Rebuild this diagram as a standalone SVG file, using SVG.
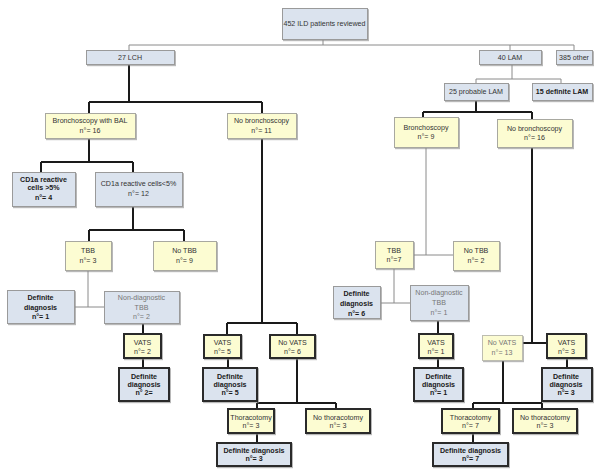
<svg xmlns="http://www.w3.org/2000/svg" width="601" height="473" viewBox="0 0 601 473">
<defs>
<filter id="sh" x="-10%" y="-10%" width="130%" height="140%"><feDropShadow dx="1" dy="1.2" stdDeviation="0.7" flood-color="#888" flood-opacity="0.6"/></filter>
</defs>
<style>
rect{shape-rendering:crispEdges}
g[id^="n-"] rect{filter:url(#sh)}
.b{fill:#dbe3ee;stroke:#9a9a9a;stroke-width:1}
.bt{fill:#dbe3ee;stroke:#2a2a2a;stroke-width:2}
.y{fill:#fcfcd2;stroke:#a8a8a0;stroke-width:1}
.yt{fill:#fcfcd2;stroke:#2a2a2a;stroke-width:2}
text{font-family:"Liberation Sans",Arial,sans-serif;font-size:7.1px;fill:#333;text-anchor:middle}
.bd{font-weight:bold;fill:#1a1a1a}
.g{fill:#777}
.thin{stroke:#8a8a8a;stroke-width:1;fill:none}
.thick{stroke:#1a1a1a;stroke-width:2;fill:none}
</style>
<rect width="601" height="473" fill="#fff"/>
<g id="connectors">
<path class="thin" d="M323 39V45M129 45H574M129 45V50M510 45V50M574 45V50"/>
<path class="thin" d="M512 64V79M476 79H561M476 79V83M561 79V83"/>
<path class="thick" d="M129 64V102M89 102H262M89 102V113M262 102V113"/>
<path class="thick" d="M89 138V162M41 162H133M41 162V172M133 162V172"/>
<path class="thick" d="M133 206V230M89 230H184M89 230V241M184 230V241"/>
<path class="thin" d="M88 270V307M74 307H104"/>
<path class="thick" d="M143 323V334M143 358V368"/>
<path class="thick" d="M262 138V323M227 323H297M227 323V335M297 323V335"/>
<path class="thick" d="M228 358V368M297 358V403M257 403H336M257 403V409M336 403V409M257 433V443"/>
<path class="thick" d="M476 101V112M423 112H532M423 112V117M532 112V119"/>
<path class="thin" d="M426 147V255M413 255H453"/>
<path class="thin" d="M394 268V303M380 303H410"/>
<path class="thick" d="M438 320V334M438 358V368"/>
<path class="thick" d="M532 147V343M522 343H547M567 358V368"/>
<path class="thick" d="M503 360V403M473 403H542M473 403V409M542 403V409M473 433V443"/>
</g>
<g id="n-root"><rect class="b" x="282" y="8" width="85" height="31"/><text x="324.5" y="26">452 ILD patients reviewed</text></g>
<g id="n-lch"><rect class="b" x="86" y="50" width="88" height="14"/><text x="130" y="59.5">27 LCH</text></g>
<g id="n-lam"><rect class="b" x="479" y="50" width="62" height="14"/><text x="510" y="59.5">40 LAM</text></g>
<g id="n-other"><rect class="b" x="556" y="50" width="36" height="14"/><text x="574" y="59.5">385 other</text></g>
<g id="n-problam"><rect class="b" x="444" y="83" width="64" height="17"/><text x="476" y="93.5">25 probable LAM</text></g>
<g id="n-deflam"><rect class="b" x="532" y="83" width="60" height="17"/><text class="bd" x="562" y="93.5">15 definite LAM</text></g>
<g id="n-bal"><rect class="y" x="45" y="113" width="90" height="25"/><text x="90" y="122.5">Bronchoscopy with BAL</text><text x="90" y="132.5">n°= 16</text></g>
<g id="n-nobr1"><rect class="y" x="227" y="113" width="69" height="25"/><text x="261.5" y="122.5">No bronchoscopy</text><text x="261.5" y="132.5">n°= 11</text></g>
<g id="n-cd1a-hi"><rect class="b" x="12" y="172" width="63" height="34"/><text class="bd" x="43.5" y="182">CD1a  reactive</text><text class="bd" x="43.5" y="189.5">cells &gt;5%</text><text class="bd" x="43.5" y="199.5">n°=  4</text></g>
<g id="n-cd1a-lo"><rect class="b" x="95" y="172" width="87" height="34"/><text x="138.5" y="185.5">CD1a reactive cells&lt;5%</text><text x="138.5" y="195.5">n°= 12</text></g>
<g id="n-tbb1"><rect class="y" x="65" y="241" width="46" height="29"/><text x="88" y="252.5">TBB</text><text x="88" y="262.5">n°= 3</text></g>
<g id="n-notbb1"><rect class="y" x="153" y="241" width="63" height="29"/><text x="184.5" y="252.5">No TBB</text><text x="184.5" y="262.5">n°= 9</text></g>
<g id="n-def1"><rect class="b" x="7" y="290" width="67" height="33"/><text class="bd" x="40.5" y="299.5">Definite</text><text class="bd" x="40.5" y="309.5">diagnosis</text><text class="bd" x="40.5" y="318.5">n°= 1</text></g>
<g id="n-nondiag1"><rect class="b" x="104" y="291" width="75" height="32"/><text class="g" x="141.5" y="299.5">Non-diagnostic</text><text class="g" x="141.5" y="309.5">TBB</text><text class="g" x="141.5" y="318.5">n°= 2</text></g>
<g id="n-vats2"><rect class="yt" x="124" y="334" width="37" height="24"/><text x="142.5" y="345">VATS</text><text x="142.5" y="353.5">n°= 2</text></g>
<g id="n-def2"><rect class="bt" x="119" y="368" width="50" height="33"/><text class="bd" x="144" y="378.5">Definite</text><text class="bd" x="144" y="386.5">diagnosis</text><text class="bd" x="144" y="394.5">n° 2=</text></g>
<g id="n-vats5"><rect class="yt" x="204" y="335" width="37" height="23"/><text x="222.5" y="345">VATS</text><text x="222.5" y="353.5">n°= 5</text></g>
<g id="n-novats6"><rect class="yt" x="270" y="335" width="45" height="23"/><text x="292.5" y="345">No VATS</text><text x="292.5" y="353.5">n°= 6</text></g>
<g id="n-def5"><rect class="bt" x="203" y="368" width="54" height="33"/><text class="bd" x="230" y="378.5">Definite</text><text class="bd" x="230" y="386.5">diagnosis</text><text class="bd" x="230" y="394.5">n°= 5</text></g>
<g id="n-thor3"><rect class="yt" x="228" y="409" width="46" height="24"/><text x="251" y="419.5">Thoracotomy</text><text x="251" y="427.5">n°= 3</text></g>
<g id="n-nothor3a"><rect class="yt" x="306" y="409" width="64" height="24"/><text x="338" y="419.5">No thoracotomy</text><text x="338" y="427.5">n°= 3</text></g>
<g id="n-def3a"><rect class="bt" x="217" y="443" width="74" height="23"/><text class="bd" x="254" y="452.5">Definite diagnosis</text><text class="bd" x="254" y="460.5">n°= 3</text></g>
<g id="n-br9"><rect class="y" x="394" y="117" width="64" height="30"/><text x="426" y="129.5">Bronchoscopy</text><text x="426" y="138.5">n°= 9</text></g>
<g id="n-nobr16"><rect class="y" x="497" y="119" width="75" height="28"/><text x="534.5" y="130.5">No bronchoscopy</text><text x="534.5" y="139.5">n°= 16</text></g>
<g id="n-tbb7"><rect class="y" x="375" y="241" width="38" height="27"/><text x="394" y="252.5">TBB</text><text x="394" y="261.5">n°=7</text></g>
<g id="n-notbb2"><rect class="y" x="453" y="241" width="46" height="29"/><text x="476" y="253">No TBB</text><text x="476" y="263">n°= 2</text></g>
<g id="n-def6"><rect class="b" x="333" y="286" width="47" height="32"/><text class="bd" x="356.5" y="295.5">Definite</text><text class="bd" x="356.5" y="305.5">diagnosis</text><text class="bd" x="356.5" y="315.5">n°= 6</text></g>
<g id="n-nondiag2"><rect class="b" x="410" y="285" width="58" height="35"/><text class="g" x="439" y="294.5">Non-diagnostic</text><text class="g" x="439" y="304.5">TBB</text><text class="g" x="439" y="314.5">n°= 1</text></g>
<g id="n-vats1"><rect class="yt" x="419" y="334" width="34" height="24"/><text x="436" y="345">VATS</text><text x="436" y="353.5">n°= 1</text></g>
<g id="n-def1b"><rect class="bt" x="414" y="368" width="49" height="33"/><text class="bd" x="438.5" y="378.5">Definite</text><text class="bd" x="438.5" y="386.5">diagnosis</text><text class="bd" x="438.5" y="394.5">n°= 1</text></g>
<g id="n-novats13"><rect class="y" x="482" y="335" width="40" height="25" style="stroke:#bdbdb0"/><text class="g" x="502" y="344.5">No VATS</text><text class="g" x="502" y="354.5">n°= 13</text></g>
<g id="n-vats3"><rect class="yt" x="547" y="334" width="39" height="24"/><text x="566.5" y="345">VATS</text><text x="566.5" y="353.5">n°= 3</text></g>
<g id="n-def3b"><rect class="bt" x="542" y="368" width="50" height="33"/><text class="bd" x="566" y="378.5">Definite</text><text class="bd" x="566" y="386.5">diagnosis</text><text class="bd" x="566" y="394.5">n°= 3</text></g>
<g id="n-thor7"><rect class="yt" x="442" y="409" width="57" height="24"/><text x="470.5" y="419.5">Thoracotomy</text><text x="470.5" y="427.5">n°= 7</text></g>
<g id="n-nothor3b"><rect class="yt" x="513" y="409" width="64" height="24"/><text x="545" y="419.5">No thoracotomy</text><text x="545" y="427.5">n°= 3</text></g>
<g id="n-def7"><rect class="bt" x="433" y="443" width="75" height="23"/><text class="bd" x="470.5" y="452.5">Definite diagnosis</text><text class="bd" x="470.5" y="460.5">n°= 7</text></g>
</svg>
